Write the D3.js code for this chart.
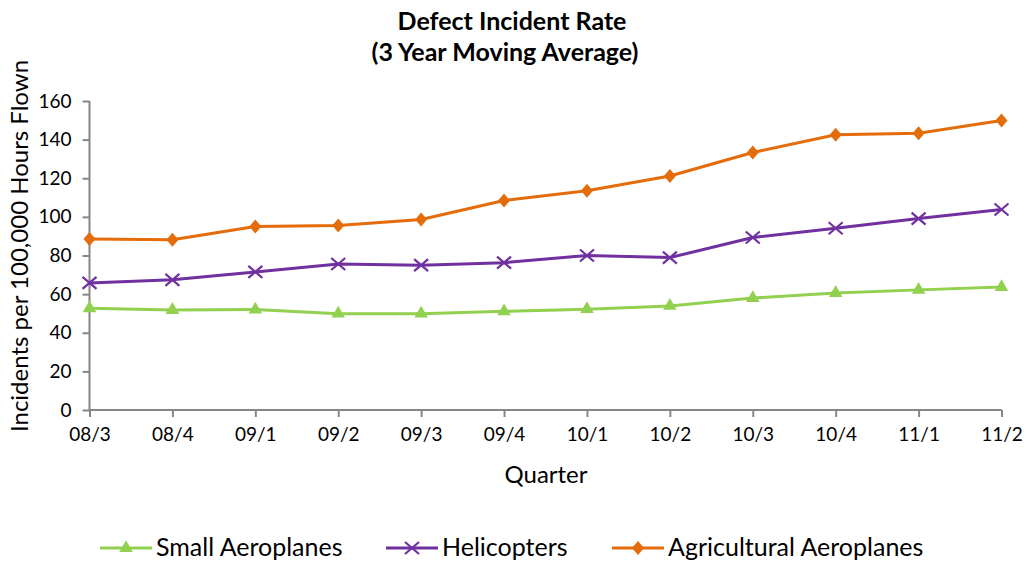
<!DOCTYPE html>
<html><head><meta charset="utf-8">
<script src="https://cdn.jsdelivr.net/npm/d3@7"></script>
<style>body{margin:0;background:#fff}svg{display:block}text{font-family:Lato,"Open Sans",sans-serif;fill:#000}</style>
</head><body>
<script>
const quarters = ["08/3","08/4","09/1","09/2","09/3","09/4","10/1","10/2","10/3","10/4","11/1","11/2"];
const smallAeroplanes = [52.7,51.8,52.0,49.9,49.9,51.1,52.2,53.9,58.0,60.6,62.2,63.7];
const helicopters = [65.8,67.4,71.5,75.6,75.0,76.3,80.0,78.9,89.3,94.1,99.1,103.8];
const agricultural = [88.6,88.2,95.0,95.5,98.6,108.5,113.5,121.2,133.3,142.5,143.3,149.9];
const yTicks = [0,20,40,60,80,100,120,140,160];

const W=1027,H=563;
const svg=d3.select("body").append("svg").attr("width",W).attr("height",H);
const x=d3.scalePoint().domain(quarters).range([89.5,1001.5]);
const y=d3.scaleLinear().domain([0,160]).range([410,101]);

const series=[
 {name:"Small Aeroplanes",values:smallAeroplanes,color:"#92D050",marker:"tri"},
 {name:"Helicopters",values:helicopters,color:"#7030A0",marker:"x"},
 {name:"Agricultural Aeroplanes",values:agricultural,color:"#E46C0A",marker:"dia"}
];

// axes
const ya=svg.append("g").attr("transform","translate(89.5,0)")
 .call(d3.axisLeft(y).tickValues(yTicks).tickSize(7).tickPadding(11));
const xa=svg.append("g").attr("transform","translate(0,410)")
 .call(d3.axisBottom(x).tickSize(7).tickPadding(11));
[ya,xa].forEach(g=>{g.selectAll("path,line").attr("stroke","#868686").attr("stroke-width",2);
 g.selectAll("text").attr("font-size",19).attr("font-family","Lato");});
ya.select(".domain").attr("d","M0,101V410");
xa.select(".domain").attr("d","M89.5,0H1001.5");

function marker(g,type,color,cx,cy){
 if(type==="tri") g.append("path").attr("d",d3.symbol(d3.symbolTriangle,80)()).attr("transform",`translate(${cx},${cy})`).attr("fill",color);
 else if(type==="dia") g.append("path").attr("d","M0,-7L6,0L0,7L-6,0Z").attr("transform",`translate(${cx},${cy})`).attr("fill",color);
 else g.append("path").attr("d","M-7,-6L7,6M-7,6L7,-6").attr("transform",`translate(${cx},${cy})`).attr("stroke",color).attr("stroke-width",2.2).attr("fill","none");
}

const line=d3.line().x((d,i)=>x(quarters[i])).y(d=>y(d));
series.forEach(s=>{
 const g=svg.append("g");
 g.append("path").datum(s.values).attr("d",line).attr("fill","none").attr("stroke",s.color).attr("stroke-width",3).attr("stroke-linejoin","round");
 s.values.forEach((v,i)=>marker(g,s.marker,s.color,x(quarters[i]),y(v)));
});

// titles
svg.append("text").attr("x",512).attr("y",30).attr("text-anchor","middle").attr("font-weight","bold").attr("font-size",25).text("Defect Incident Rate");
svg.append("text").attr("x",505).attr("y",61).attr("text-anchor","middle").attr("font-weight","bold").attr("font-size",25).text("(3 Year Moving Average)");
svg.append("text").attr("transform","translate(28,246) rotate(-90)").attr("text-anchor","middle").attr("font-size",24).text("Incidents per 100,000 Hours Flown");
svg.append("text").attr("x",546).attr("y",483).attr("text-anchor","middle").attr("font-size",24).text("Quarter");

// legend
const legX=[100,386,612];
series.forEach((s,i)=>{
 const g=svg.append("g");
 const cy=548;
 g.append("line").attr("x1",legX[i]).attr("x2",legX[i]+52).attr("y1",cy).attr("y2",cy).attr("stroke",s.color).attr("stroke-width",3);
 marker(g,s.marker,s.color,legX[i]+26,cy);
 g.append("text").attr("x",legX[i]+56).attr("y",cy+8).attr("font-size",25).text(s.name);
});
</script>
</body></html>
